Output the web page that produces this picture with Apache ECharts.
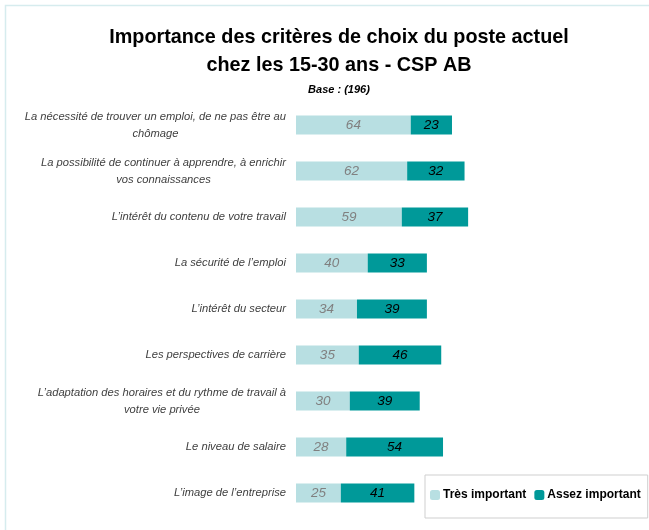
<!DOCTYPE html>
<html>
<head>
<meta charset="utf-8">
<script src="https://cdn.jsdelivr.net/npm/echarts@6/dist/echarts.min.js"></script>
<style>
  html, body { margin: 0; padding: 0; background: #fff; }
  #chart { width: 649px; height: 530px; }
</style>
</head>
<body>
<div id="chart"></div>
<script>
// critères (du haut vers le bas)
const categories = [
  'La nécessité de trouver un emploi, de ne pas être au\nchômage',
  'La possibilité de continuer à apprendre, à enrichir\nvos connaissances',
  'L\u2019intérêt du contenu de votre travail',
  'La sécurité de l\u2019emploi',
  'L\u2019intérêt du secteur',
  'Les perspectives de carrière',
  'L\u2019adaptation des horaires et du rythme de travail à\nvotre vie privée',
  'Le niveau de salaire',
  'L\u2019image de l\u2019entreprise'
]
const tresImportant = [64, 62, 59, 40, 34, 35, 30, 28, 25]
const assezImportant = [23, 32, 37, 33, 39, 46, 39, 54, 41]
const seriesNames = ['Très important', 'Assez important']

// pas de police étroite dispo : Liberation Sans en taille réduite
const FONT = '"Liberation Sans Narrow", "Arial Narrow", "Liberation Sans", Arial, sans-serif'

let myChart = echarts.init(document.getElementById('chart'))
myChart.setOption({
  backgroundColor: '#fff',
  textStyle: { fontFamily: FONT },
  graphic: [{
    // cadre clair autour du graphique
    type: 'rect',
    shape: { x: 5.5, y: 5.5, width: 700, height: 600 },
    style: { fill: null, stroke: '#d6ecee', lineWidth: 1.5 },
    silent: true
  }],
  title: {
    text: 'Importance des critères de choix du poste actuel\nchez les 15-30 ans - CSP AB',
    subtext: 'Base : (196)',
    left: 334,
    textAlign: 'center',
    top: 19,
    itemGap: 4,
    textStyle: {
      fontFamily: FONT,
      fontSize: 19.8,
      fontWeight: 'bold',
      lineHeight: 28,
      color: '#000'
    },
    subtextStyle: {
      fontFamily: FONT,
      fontSize: 11,
      fontWeight: 'bold',
      fontStyle: 'italic',
      color: '#000'
    }
  },
  legend: {
    data: seriesNames,
    orient: 'horizontal',
    left: 425,
    top: 475,
    width: 260,
    padding: [14, 7, 17, 5],
    itemWidth: 10,
    itemHeight: 10,
    itemGap: 8,
    backgroundColor: '#fff',
    borderColor: '#cfcfcf',
    borderWidth: 1,
    textStyle: {
      fontFamily: FONT,
      fontSize: 12,
      fontWeight: 'bold',
      color: '#000',
      padding: [0, 0, 0, -2]
    }
  },
  grid: {
    left: 296,
    top: 102,
    width: 179.3,
    height: 414,
    outerBoundsMode: 'none'
  },
  xAxis: {
    type: 'value',
    min: 0,
    max: 100,
    show: false
  },
  yAxis: {
    type: 'category',
    inverse: true,
    data: categories,
    axisLine: { show: false },
    axisTick: { show: false },
    axisLabel: {
      margin: 10,
      color: '#404040',
      fontFamily: FONT,
      fontSize: 11.2,
      fontStyle: 'italic',
      formatter: function (v) {
        // lignes centrées entre elles, bloc aligné à droite
        return v.split('\n').map(l => '{c|' + l + '}').join('\n')
      },
      rich: {
        c: {
          align: 'center',
          fontFamily: FONT,
          fontSize: 11.2,
          fontStyle: 'italic',
          color: '#404040',
          lineHeight: 17
        }
      }
    }
  },
  series: [
    {
      name: seriesNames[0],
      type: 'bar',
      stack: 'total',
      barWidth: 19,
      data: tresImportant,
      itemStyle: { color: '#b8dfe2' },
      label: {
        show: true,
        position: 'inside',
        color: '#808080',
        fontFamily: FONT,
        fontSize: 13.5,
        fontStyle: 'italic'
      }
    },
    {
      name: seriesNames[1],
      type: 'bar',
      stack: 'total',
      barWidth: 19,
      data: assezImportant,
      itemStyle: { color: '#009999' },
      label: {
        show: true,
        position: 'inside',
        color: '#000',
        fontFamily: FONT,
        fontSize: 13.5,
        fontStyle: 'italic'
      }
    }
  ]
})
</script>
</body>
</html>
